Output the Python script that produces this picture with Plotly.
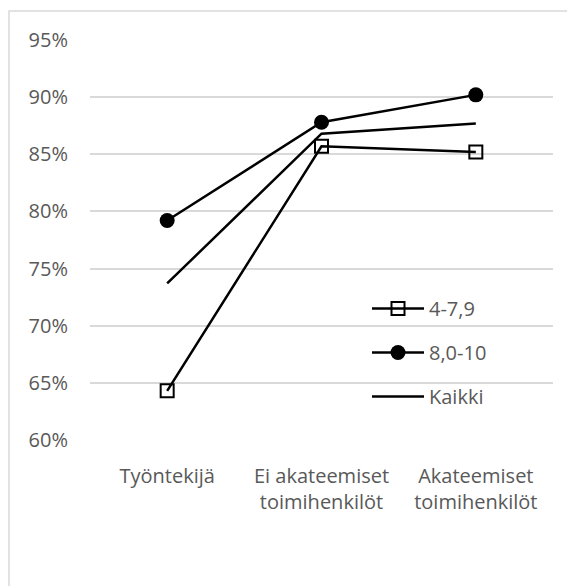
import plotly.graph_objects as go

categories = ["Työntekijä", "Ei akateemiset<br>toimihenkilöt", "Akateemiset<br>toimihenkilöt"]
s_low = [0.643, 0.857, 0.852]
s_high = [0.792, 0.878, 0.902]
s_all = [0.737, 0.868, 0.877]
names = ["4-7,9", "8,0-10", "Kaikki"]
y_ticks = [0.60, 0.65, 0.70, 0.75, 0.80, 0.85, 0.90, 0.95]

OFF = 8  # browser body margin
W, H = 575 - OFF, 586 - OFF
L, T = 90 - OFF, 40 - OFF
R = W - (553 - OFF)
B = H - (440 - OFF)
pw, ph = W - L - R, H - T - B

fig = go.Figure()
fig.add_trace(go.Scatter(x=categories, y=s_low, name=names[0], mode="lines+markers",
                         line=dict(color="black", width=2.5), legendgroup="a",
                         marker=dict(symbol="square-open", size=13, color="black", line=dict(width=2, color="black"))))
fig.add_trace(go.Scatter(x=categories, y=s_high, name=names[1], mode="lines+markers",
                         line=dict(color="black", width=2.5), legendgroup="b",
                         marker=dict(symbol="circle", size=15, color="black")))
fig.add_trace(go.Scatter(x=categories, y=s_all, name=names[2], mode="lines",
                         line=dict(color="black", width=2.5), legendgroup="c"))

def px_to_paper_x(px):
    return (px - OFF - L) / pw

def px_to_paper_y(py):
    return (H - B - (py - OFF)) / ph

fig.add_shape(type="rect", xref="paper", yref="paper",
              x0=px_to_paper_x(9), x1=px_to_paper_x(574),
              y0=px_to_paper_y(610), y1=px_to_paper_y(11),
              line=dict(color="#d9d9d9", width=1.5), fillcolor="rgba(0,0,0,0)", layer="below")

fig.update_layout(
    width=W, height=H,
    margin=dict(l=L, r=R, t=T, b=B),
    paper_bgcolor="white", plot_bgcolor="white",
    font=dict(family="Open Sans, sans-serif", size=20, color="#595959"),
    showlegend=True,
    legend=dict(x=px_to_paper_x(367), y=px_to_paper_y(289), xanchor="left", yanchor="top",
                bgcolor="rgba(0,0,0,0)", traceorder="grouped", tracegroupgap=15,
                itemwidth=52,
                font=dict(size=20, color="#595959")),
    xaxis=dict(type="category", range=[-0.5, 2.5], showgrid=False, showline=False,
               ticks="", tickfont=dict(size=20, color="#595959"), zeroline=False,
               ticklabelstandoff=22),
    yaxis=dict(range=[0.60, 0.95], tickvals=y_ticks, tickformat=".0%",
               showgrid=True, gridcolor="#d9d9d9", gridwidth=1.5, zeroline=False,
               showline=False, ticks="", ticklabelstandoff=21,
               tickfont=dict(size=20, color="#595959")),
)

fig.write_html("out.html")
